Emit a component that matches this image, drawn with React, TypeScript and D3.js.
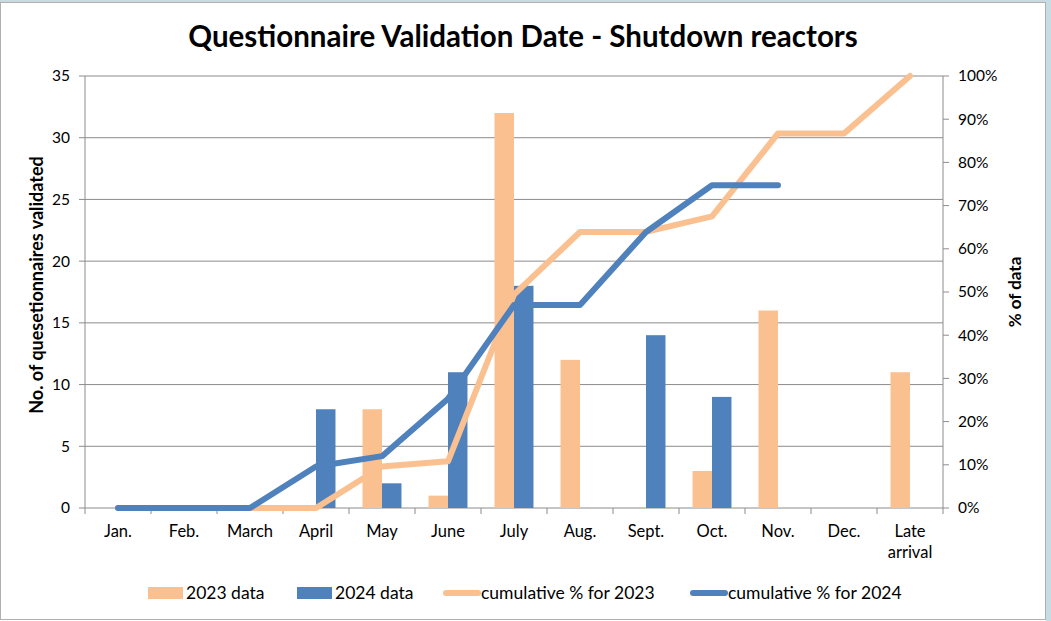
import React from "react";
import * as d3 from "d3";

const categories = ["Jan.", "Feb.", "March", "April", "May", "June", "July", "Aug.", "Sept.", "Oct.", "Nov.", "Dec.", "Late arrival"];
const data2023 = [0, 0, 0, 0, 8, 1, 32, 12, 0, 3, 16, 0, 11];
const data2024 = [0, 0, 0, 8, 2, 11, 18, 0, 14, 9, null, null, null];
const cum2023 = [0, 0, 0, 0, 9.6, 10.8, 49.4, 63.9, 63.9, 67.5, 86.7, 86.7, 100];
const cum2024 = [0, 0, 0, 9.6, 12.0, 25.3, 47.0, 47.0, 63.9, 74.7, 74.7, null, null];
const leftTicks = [0, 5, 10, 15, 20, 25, 30, 35];
const rightTicks = [0, 10, 20, 30, 40, 50, 60, 70, 80, 90, 100];
const legendItems = [
  { label: "2023 data", kind: "bar", color: "#FAC090" },
  { label: "2024 data", kind: "bar", color: "#4F81BD" },
  { label: "cumulative % for 2023", kind: "line", color: "#FAC090" },
  { label: "cumulative % for 2024", kind: "line", color: "#4F81BD" },
];

const W = 1051;
const H = 621;
const FONT = "Lato, Carlito, Calibri, sans-serif";
const ORANGE = "#FAC090";
const BLUE = "#4F81BD";

export default function App() {
  const x0 = 85, x1 = 943, yTop = 76, yBot = 508;
  const x = d3.scaleBand<string>().domain(categories).range([x0, x1]);
  const yL = d3.scaleLinear().domain([0, 35]).range([yBot, yTop]);
  const yR = d3.scaleLinear().domain([0, 100]).range([yBot, yTop]);
  const barW = x.bandwidth() * 0.295;
  const cx = (c: string) => (x(c) as number) + x.bandwidth() / 2;

  const line = d3
    .line<number | null>()
    .defined((d) => d !== null)
    .x((_, i) => cx(categories[i]))
    .y((d) => yR(d as number));

  const legendX = [148, 297, 443, 690];

  return (
    <svg
      width={W}
      height={H}
      style={{ position: "absolute", left: 0, top: 0, background: "#fff" }}
      fontFamily={FONT}
    >
      <rect x={0} y={0} width={W} height={2} fill="#c9dbe0" />
      <rect x={1046} y={0} width={5} height={H} fill="#c6dde3" />
      <rect x={0.5} y={2.5} width={1045} height={617} fill="#fff" stroke="#b0b0b0" strokeWidth={1} />
      <text x={523} y={47} textAnchor="middle" fontSize={29.5} fontWeight="bold" fill="#000">
        Questionnaire Validation Date - Shutdown reactors
      </text>

      {/* gridlines */}
      {leftTicks.map((t) => (
        <line key={"g" + t} x1={x0} x2={x1} y1={yL(t)} y2={yL(t)} stroke="#8c8c8c" strokeWidth={1} />
      ))}
      {/* axes */}
      <line x1={x0} x2={x0} y1={yTop} y2={yBot} stroke="#8c8c8c" />
      <line x1={x1} x2={x1} y1={yTop} y2={yBot} stroke="#8c8c8c" />
      {leftTicks.map((t) => (
        <g key={"lt" + t}>
          <line x1={x0 - 6} x2={x0} y1={yL(t)} y2={yL(t)} stroke="#8c8c8c" />
          <text x={70} y={yL(t)} dy="0.35em" textAnchor="end" fontSize={15.5} fill="#000">{t}</text>
        </g>
      ))}
      {rightTicks.map((t) => (
        <g key={"rt" + t}>
          <line x1={x1} x2={x1 + 6} y1={yR(t)} y2={yR(t)} stroke="#8c8c8c" />
          <text x={958} y={yR(t)} dy="0.35em" textAnchor="start" fontSize={15.5} fill="#000">{t + "%"}</text>
        </g>
      ))}
      {categories.map((c, i) => (
        <line key={"xt" + i} x1={(x(c) as number) + x.bandwidth()} x2={(x(c) as number) + x.bandwidth()} y1={yBot} y2={yBot + 6} stroke="#8c8c8c" />
      ))}
      <line x1={x0} x2={x0} y1={yBot} y2={yBot + 6} stroke="#8c8c8c" />

      {/* bars */}
      {categories.map((c, i) =>
        data2023[i] ? (
          <rect key={"b23" + i} x={cx(c) - barW} y={yL(data2023[i])} width={barW} height={yBot - yL(data2023[i])} fill={ORANGE} />
        ) : null
      )}
      {categories.map((c, i) =>
        data2024[i] ? (
          <rect key={"b24" + i} x={cx(c)} y={yL(data2024[i] as number)} width={barW} height={yBot - yL(data2024[i] as number)} fill={BLUE} />
        ) : null
      )}

      {/* lines */}
      <path d={line(cum2023) || ""} fill="none" stroke={ORANGE} strokeWidth={6} strokeLinejoin="round" strokeLinecap="round" />
      <path d={line(cum2024) || ""} fill="none" stroke={BLUE} strokeWidth={6} strokeLinejoin="round" strokeLinecap="round" />

      {/* x labels */}
      {categories.map((c, i) => {
        const parts = c === "Late arrival" ? ["Late", "arrival"] : [c];
        return (
          <text key={"xl" + i} x={cx(c)} y={537} textAnchor="middle" fontSize={16.5} fill="#000">
            {parts.map((p, k) => (
              <tspan key={k} x={cx(c)} dy={k === 0 ? 0 : 21}>{p}</tspan>
            ))}
          </text>
        );
      })}

      {/* axis titles */}
      <text transform={`translate(43,285) rotate(-90)`} textAnchor="middle" fontSize={18} fontWeight="bold" fill="#000">
        No. of quesetionnaires validated
      </text>
      <text transform={`translate(1021,292) rotate(-90)`} textAnchor="middle" fontSize={17} fontWeight="bold" fill="#000">
        % of data
      </text>

      {/* legend */}
      {legendItems.map((it, i) => (
        <g key={"lg" + i}>
          {it.kind === "bar" ? (
            <rect x={legendX[i]} y={587} width={35} height={12} fill={it.color} />
          ) : (
            <line x1={legendX[i] + 3} x2={legendX[i] + 35} y1={593} y2={593} stroke={it.color} strokeWidth={6} strokeLinecap="round" />
          )}
          <text x={legendX[i] + 38} y={593} dy="0.35em" fontSize={17.5} fill="#000">{it.label}</text>
        </g>
      ))}
    </svg>
  );
}
